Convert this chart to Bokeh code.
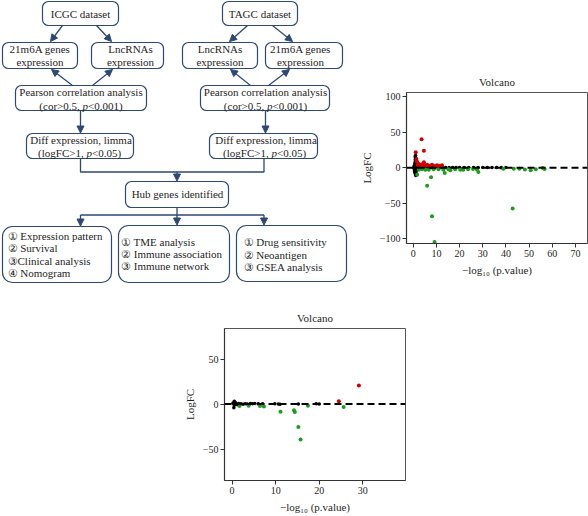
from bokeh.plotting import figure
from bokeh.models import ColumnDataSource, Arrow, NormalHead, Span, FixedTicker, Spacer
from bokeh.layouts import row, column
from bokeh.core.properties import value
from bokeh.embed import file_html
from bokeh.resources import INLINE

SERIF = "Liberation Serif"
NAVY = "#2d4872"
TXT = "#1e1e1e"
RED = "#d40000"
GREEN = "#1c9c1c"
FS = 11  # px

# ---------------- flowchart texts ----------------
flow_texts = [
    "ICGC dataset",
    "21m6A genes", "expression",
    "LncRNAs", "expression",
    "Pearson correlation analysis",
    "Diff expression, limma",
    "TAGC dataset",
    "LncRNAs", "expression",
    "21m6A genes", "expression",
    "Pearson correlation analysis",
    "Diff expression, limma",
    "Hub genes identified",
]
# lines containing an italic "p": (before, after)
pline_texts = [("(cor>0.5, ", "<0.001)"), ("(logFC>1, ", "<0.05)"),
               ("(cor>0.5, ", "<0.001)"), ("(logFC>1, ", "<0.05)")]
list_texts = [
    "① Expression pattern", "② Survival", "③Clinical analysis", "④ Nomogram",
    "① TME analysis", "② Immune association", "③ Immune network",
    "① Drug sensitivity", "② Neoantigen", "③ GSEA analysis",
]

# ---------------- volcano data ----------------
v1_red_x = [3.6, 4.6, 1.1, 1.4, 1.6, 4.6, 6.0, 8.1, 10.3, 12.4, 2.2, 2.8, 3.5, 4.2, 5.3, 7.0, 9.2, 11.3, 1.9]
v1_red_y = [40, 24, 21.7, 12.3, 8.5, 7.5, 4.2, 4.2, 3.3, 3.3, 5.5, 3.0, 4.5, 2.8, 3.0, 2.6, 2.4, 2.2, 4.0]
v1_green_x = [1.7, 7.7, 6.0, 8.1, 9.2, 42.9, 13.6, 16.0, 20.3, 28.1, 38.9, 43.4, 50.7, 52.9, 56.7,
              2.4, 3.8, 5.2, 6.7, 8.8, 10.9, 13.0, 15.2, 18.1, 21.6, 23.7, 25.8, 27.4, 45.8, 48.2, 55.9]
v1_green_y = [-10, -13.7, -25.5, -68.5, -105, -57.5, -7.5, -3.8, -2.8, -6.1, -1.4, -1.4, -3.8, -2.4, -1.9,
              -2.8, -2.3, -2.8, -2.8, -2.3, -2.3, -2.8, -2.3, -2.3, -2.8, -2.3, -1.8, -2.3, -1.6, -2.5, -0.6]
v1_black_x = [1.0, 1.0, 0.9, 1.1, 0.8, 1.2, 0.6, 1.0, 0.4, 1.3, 0.7, 1.1, 0.5, 0.9, 1.2, 0.8, 1.0, 1.1,
              0.6, 1.4, 0.3, 1.6, 0.5, 1.5, 0.7, 1.2, 0.9,
              2.5, 3.2, 4.0, 5.0, 6.0, 7.0, 8.0, 9.5, 11, 12.5, 14, 15.5, 17, 18.5, 20, 22, 24, 26, 28, 30,
              32, 34, 36, 38, 40]
v1_black_y = [17, 14, 11, 9, 7, 5, 3, 2, 1, 0.5, -1, -2, -3, -4.5, -6, -7.5, -9, -11,
              -5.5, -3.5, 0, -1.5, 2.5, 3.5, 5.5, 12, 15.5,
              0.8, 0.5, 0.6, 0.4, 0.5, 0.3, 0.4, 0.3, 0.5, 0.2, 0.3, 0.2, 0.3, 0.1, 0.2, 0.1, 0.2, 0.1, 0.1, 0.1,
              0.1, 0.1, 0.1, 0.0, 0.1]

v2_red_x = [29.1, 24.5]
v2_red_y = [20.7, 3.0]
v2_green_x = [1.7, 3.8, 6.4, 7.3, 11.1, 14.2, 14.4, 15.2, 15.7, 17.4, 25.6]
v2_green_y = [-2.2, -1.9, -2.2, -2.6, -8.5, -7.0, -8.9, -25.6, -39.5, -1.9, -3.3]
v2_black_x = [0.2, 0.4, 0.4, 0.5, 0.6, 0.8, 1.0, 1.2, 0.5, 1.5, 2.0, 2.5, 3.0, 3.5, 4.2, 4.7, 5.2,
              6.0, 7.0, 9.8, 10.6, 11.0, 15.2, 19.3, 20.0]
v2_black_y = [1.0, 1.1, -4.0, -1.0, 0.5, 1.5, 0.0, -0.8, 3.0, 0.5, 0.3, -0.2, 0.4, 0.1, 0.5, 0.3, 0.6,
              0.2, 0.4, 0.3, 0.0, -0.3, 0.0, 0.3, 0.0]

v1_xticks = [0, 10, 20, 30, 40, 50, 60, 70]
v1_yticks = [-100, -50, 0, 50, 100]
v2_xticks = [0, 10, 20, 30]
v2_yticks = [-50, 0, 50]

# ---------------- flowchart figure ----------------
flow = figure(width=350, height=290, x_range=(0, 350), y_range=(290, 0),
              x_axis_type=None, y_axis_type=None, min_border=0,
              min_border_left=0, min_border_right=0, min_border_top=0, min_border_bottom=0,
              output_backend="svg", toolbar_location=None, outline_line_color=None)

# box layout (left, top, right, bottom) in page pixels
small_boxes = [(42, 1, 118, 25), (2, 42, 77, 68), (91, 42, 163, 68), (15, 85, 146, 110),
               (26, 133, 133, 158), (222, 1, 297, 25), (182, 42, 257, 68), (265, 42, 342, 68),
               (200, 85, 329, 110), (209, 133, 317, 158), (125, 181, 228, 207)]
big_boxes = [(2, 226, 111, 282), (118, 225, 229, 282), (236, 225, 346, 281)]

for boxes, rad in ((small_boxes, 6), (big_boxes, 10)):
    flow.quad(left=[b[0] for b in boxes], top=[b[1] for b in boxes],
              right=[b[2] for b in boxes], bottom=[b[3] for b in boxes],
              fill_color="white", line_color=NAVY, line_width=1.2, border_radius=rad)

flow_pos = [(80, 13),
            (39.5, 48.5), (39.5, 61.5),
            (130, 48.5), (130, 61.5),
            (80.5, 91.7),
            (80.5, 139.5),
            (259.5, 13),
            (219.5, 48.5), (219.5, 61.5),
            (300, 48.5), (300, 61.5),
            (265, 91.7),
            (265.5, 139.5),
            (177, 193.5)]
common = dict(text_font=value(SERIF), text_font_size=f"{FS}px", text_baseline="middle",
              text_color=TXT)
flow.text(x=[p[0] for p in flow_pos], y=[p[1] for p in flow_pos], text=flow_texts,
          text_align="center", **common)

# lines with italic p: position of the italic "p" (left edge) and line y
p_pos = [(82.0, 105), (86.0, 152.5), (266.5, 105), (271.0, 152.5)]
flow.text(x=[p[0] for p in p_pos], y=[p[1] for p in p_pos],
          text=[t[0] for t in pline_texts], text_align="right", **common)
flow.text(x=[p[0] for p in p_pos], y=[p[1] for p in p_pos], text=["p"] * len(p_pos),
          text_align="left", text_font_style="italic", **common)
flow.text(x=[p[0] + 5.6 for p in p_pos], y=[p[1] for p in p_pos],
          text=[t[1] for t in pline_texts], text_align="left", **common)

list_pos = [(7, 235.7), (7, 247.9), (7, 260.1), (7, 272.3),
            (120.5, 241), (120.5, 253.3), (120.5, 265.7),
            (243, 241), (243, 254), (243, 266.7)]
flow.text(x=[p[0] for p in list_pos], y=[p[1] for p in list_pos], text=list_texts,
          text_align="left", **common)

# connector lines
flow.multi_line(xs=[[80, 80, 263.5, 263.5], [176.5, 176.5], [80, 263.5]],
                ys=[[158, 171.5, 171.5, 158], [207, 214.5], [214.5, 214.5]],
                line_color=NAVY, line_width=1.3)

arrows = dict(
    x0=[62, 96, 72, 92, 80, 247, 272, 250, 268, 265, 176.5, 80, 176.5, 263.5],
    y0=[25, 25, 85, 85, 110, 25, 25, 85, 85, 110, 171.5, 214.5, 214.5, 214.5],
    x1=[50, 111, 51, 112, 80, 229, 292, 230, 289, 265, 176.5, 80, 176.5, 263.5],
    y1=[41, 41, 69, 69, 132.5, 41, 41, 69, 69, 132.5, 180.5, 225.5, 224.5, 224.5],
)
flow.add_layout(Arrow(end=NormalHead(size=7, fill_color=NAVY, line_color=NAVY, line_width=1),
                      x_start="x0", y_start="y0", x_end="x1", y_end="y1",
                      source=ColumnDataSource(arrows), line_color=NAVY, line_width=1.3))


# ---------------- volcano figures ----------------
def volcano(width, height, xr, yr, xticks, yticks, mb, red, green, black, standoff):
    p = figure(width=width, height=height, x_range=xr, y_range=yr, title="Volcano",
               min_border_left=mb[0], min_border_right=mb[1], min_border_top=mb[2],
               min_border_bottom=mb[3], output_backend="svg", toolbar_location=None)
    p.title.align = "center"
    p.title.text_font = SERIF
    p.title.text_font_size = "11px"
    p.title.text_font_style = "normal"
    p.title.text_color = TXT
    p.title.standoff = standoff
    p.xgrid.visible = False
    p.ygrid.visible = False
    p.outline_line_color = "#555555"
    p.outline_line_width = 1
    p.xaxis.ticker = FixedTicker(ticks=xticks)
    p.yaxis.ticker = FixedTicker(ticks=yticks)
    p.yaxis.major_label_overrides = {t: ("−" + str(-t) if t < 0 else str(t)) for t in yticks}
    for ax in (p.xaxis, p.yaxis):
        ax.axis_line_color = "#333333"
        ax.axis_line_width = 1.2
        ax.major_tick_line_color = "#333333"
        ax.major_tick_out = 4
        ax.major_tick_in = 0
        ax.minor_tick_line_color = None
        ax.major_label_text_font = SERIF
        ax.major_label_text_font_size = "10px"
        ax.major_label_text_color = TXT
        ax.major_label_standoff = 2
        ax.axis_label_text_font = SERIF
        ax.axis_label_text_font_size = "11px"
        ax.axis_label_text_font_style = "normal"
        ax.axis_label_text_color = TXT
        ax.axis_label_standoff = 4
    p.yaxis.axis_label = "LogFC"
    p.xaxis.axis_label = "−log₁₀ (p.value)"
    p.scatter(x=black[0], y=black[1], size=3.6, color="black", line_color=None)
    p.scatter(x=green[0], y=green[1], size=4, color=GREEN, line_color=None)
    p.scatter(x=red[0], y=red[1], size=4, color=RED, line_color=None)
    p.add_layout(Span(location=0, dimension="width", line_color="black",
                      line_width=2, line_dash="7 4"))
    return p


v1 = volcano(238, 290, (-2.9, 75.2), (-107, 106), v1_xticks, v1_yticks, (56, 1, 92, 47),
             (v1_red_x, v1_red_y), (v1_green_x, v1_green_y), (v1_black_x, v1_black_y), 10)
v2 = volcano(230, 226, (-1.75, 39.8), (-85, 84), v2_xticks, v2_yticks, (42, 5, 38, 36),
             (v2_red_x, v2_red_y), (v2_green_x, v2_green_y), (v2_black_x, v2_black_y), 10)

layout = column(row(column(flow), column(v1)),
                row(Spacer(width=180, height=226), column(v2)))

open("out.html", "w").write(file_html(layout, INLINE))
